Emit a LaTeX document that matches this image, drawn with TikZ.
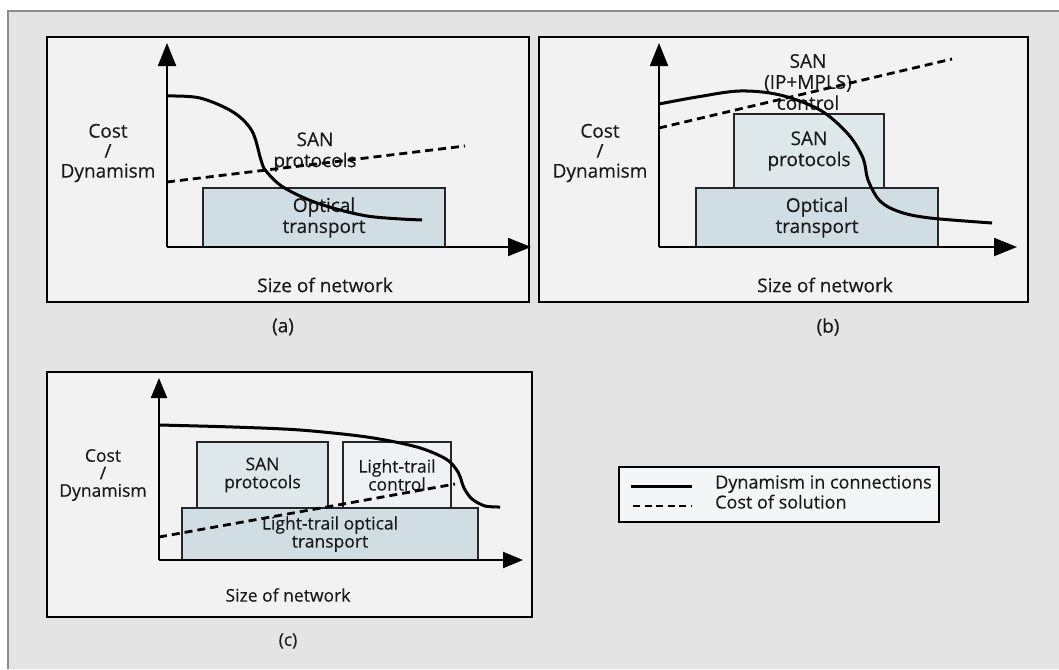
\documentclass[tikz,border=0pt]{standalone}
\usepackage{fontspec}
\setmainfont{Open Sans}[FakeBold=0.35]
\usetikzlibrary{arrows.meta}
\definecolor{pagebg}{HTML}{E4E4E4}
\definecolor{framegray}{HTML}{8C8C8C}
\definecolor{panelbg}{HTML}{F2F2F2}
\definecolor{optfill}{HTML}{D0DDE2}
\definecolor{sanfill}{HTML}{DEE7EA}
\definecolor{ctlfill}{HTML}{EEF2F4}
\definecolor{legbg}{HTML}{F3F5F6}
\definecolor{ink}{HTML}{1A1A1A}
\tikzset{
  panel/.style={draw=black, line width=1.7pt, fill=panelbg},
  layer/.style={draw=black!85, line width=1.4pt, align=center, inner sep=0pt, text=ink},
  axis/.style={line width=2pt, -{Triangle[length=23pt,width=18pt]}},
  axisc/.style={line width=2pt, -{Triangle[length=20pt,width=16pt]}},
  dyn/.style={line width=3pt, line join=round},
  cost/.style={line width=2.8pt, dash pattern=on 8pt off 5pt},
  lbl/.style={align=center, inner sep=0pt, text=ink, font=\fontsize{19}{21}\selectfont},
  lblc/.style={align=center, inner sep=0pt, text=ink, font=\fontsize{17.5}{18}\selectfont},
  axlbl/.style={align=center, inner sep=0pt, text=ink, font=\fontsize{19}{20}\selectfont},
  axlblc/.style={align=center, inner sep=0pt, text=ink, font=\fontsize{17.5}{17.5}\selectfont},
  legtxt/.style={anchor=west, inner sep=0pt, text=ink, text height=0.72em, text depth=0.22em, font=\fontsize{18}{20}\selectfont},
}
\begin{document}
\begin{tikzpicture}[x=1pt,y=-1pt]
\useasboundingbox (0,0) rectangle (1059,669);
% page background and frame
\fill[pagebg] (8,11) rectangle (1059,669);
\draw[framegray, line width=2pt] (1059,11) -- (8,11) -- (8,669);

% ---------- panel (a) ----------
\draw[panel] (47,37) rectangle (529,302);
\node[layer, fill=optfill, minimum width=242pt, minimum height=59pt, font=\fontsize{19}{21}\selectfont] (aopt) at (324,217.5) {Optical\\transport};
\node[lbl] (asan) at (315,152) {SAN\\protocols};
\node[axlbl] (acost) at (108,153) {Cost\\/\\Dynamism};
\node[lbl] (asize) at (325,285) {Size of network};
\node[lbl] (acap) at (283,327) {(a)};
\coordinate (ao) at (167,247);
\coordinate (ay) at (167,43);
\coordinate (ax) at (531,247);
\draw[axis] (ao) -- (ay);
\draw[axis] (ao) -- (ax);
\coordinate (ac0) at (167,182);
\coordinate (ac1) at (465,146);
\draw[cost] (ac0) -- (ac1);
\draw[dyn] plot[smooth, tension=0.55] coordinates {(167,96) (200,98) (233,112) (252,131) (261,160) (266,171) (283,187) (317,203) (367,216) (422,220)};

% ---------- panel (b) ----------
\draw[panel] (539,37) rectangle (1028,302);
\node[layer, fill=optfill, minimum width=242pt, minimum height=59pt, font=\fontsize{19}{21}\selectfont] (bopt) at (817,217.5) {Optical\\transport};
\node[layer, fill=sanfill, minimum width=150pt, minimum height=74pt, font=\fontsize{19}{21}\selectfont] (bsan) at (809,151) {SAN\\protocols};
\node[lbl] (bctl) at (808,82) {SAN\\(IP+MPLS)\\control};
\node[axlbl] (bcost) at (600,153) {Cost\\/\\Dynamism};
\node[lbl] (bsize) at (825,285) {Size of network};
\node[lbl] (bcap) at (828,327) {(b)};
\coordinate (bo) at (659,247);
\coordinate (by) at (659,43);
\coordinate (bx) at (1017,247);
\draw[axis] (bo) -- (by);
\draw[axis] (bo) -- (bx);
\coordinate (bc0) at (659,128);
\coordinate (bc1) at (952,59);
\draw[cost] (bc0) -- (bc1);
\draw[dyn] plot[smooth, tension=0.55] coordinates {(659,104) (697,97) (740,91) (780,95) (820,110) (848,134) (863,158) (868,180) (880,201) (900,212) (930,218) (992,223)};

% ---------- panel (c) ----------
\draw[panel] (47,372) rectangle (532,617);
\node[layer, fill=optfill, minimum width=296pt, minimum height=52pt, font=\fontsize{17.5}{18}\selectfont] (copt) at (330,534) {Light-trail optical\\transport};
\node[layer, fill=sanfill, minimum width=131pt, minimum height=66pt, font=\fontsize{17.5}{18}\selectfont] (csan) at (262.5,475) {SAN\\protocols};
\node[layer, fill=ctlfill, minimum width=108pt, minimum height=66pt, font=\fontsize{17.5}{18}\selectfont] (cctl) at (397,475) {Light-trail\\control};
\node[axlblc] (ccost) at (103,475) {Cost\\/\\Dynamism};
\node[lblc] (csize) at (288,595) {Size of network};
\node[lblc] (ccap) at (288,641) {(c)};
\coordinate (co) at (159,560);
\coordinate (cy) at (159,378);
\coordinate (cx) at (523,560);
\draw[axisc] (co) -- (cy);
\draw[axisc] (co) -- (cx);
\coordinate (cc0) at (159,537);
\coordinate (cc1) at (455,484);
\draw[cost] (cc0) -- (cc1);
\draw[dyn] plot[smooth, tension=0.5] coordinates {(159,425) (233,427) (300,430) (367,437) (417,447) (446,459) (458,472) (464,488) (472,499) (485,506) (500,507)};

% ---------- legend ----------
\draw[draw=black, line width=1.7pt, fill=legbg] (619,467) rectangle (939,522);
\coordinate (ls0) at (631,486);
\coordinate (ls1) at (692,486);
\coordinate (ld0) at (633,506);
\coordinate (ld1) at (692,506);
\draw[dyn] (ls0) -- (ls1);
\draw[cost, dash pattern=on 7pt off 4.5pt] (ld0) -- (ld1);
\node[legtxt] (ldyn) at (715,486) {Dynamism in connections};
\node[legtxt] (lcost) at (715,506) {Cost of solution};
\end{tikzpicture}
\end{document}
